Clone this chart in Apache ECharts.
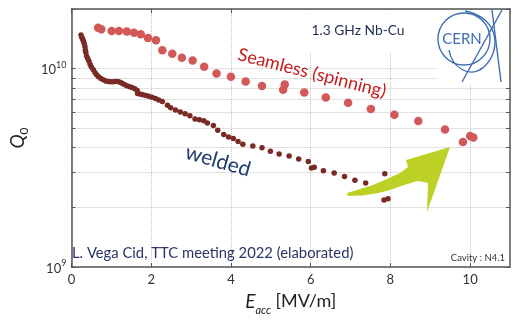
<!DOCTYPE html>
<html>
<head>
<meta charset="utf-8">
<script src="https://cdn.jsdelivr.net/npm/echarts@6/dist/echarts.min.js"></script>
<style>
  html, body { margin: 0; padding: 0; background: #fff; }
  #chart { width: 520px; height: 321px; }
</style>
</head>
<body>
<div id="chart"></div>
<script>
// seamless (spinning) cavity, Eacc [MV/m] / Q0
var seamlessE = [0.67, 0.75, 1.01, 1.19, 1.39, 1.57, 1.74, 1.92, 2.12, 2.28, 2.53, 2.77, 3.04, 3.33, 3.64,
  4.0, 4.37, 4.78, 5.31, 5.35, 5.84, 6.38, 6.94, 7.51, 8.1, 8.7, 9.37, 9.82, 10.0, 10.08];
var seamlessQ = [1.61e10, 1.58e10, 1.55e10, 1.55e10, 1.54e10, 1.52e10, 1.49e10, 1.43e10, 1.39e10, 1.24e10,
  1.19e10, 1.135e10, 1.10e10, 1.023e10, 9.46e9, 9.11e9, 8.62e9, 8.18e9, 7.84e9, 8.33e9,
  7.59e9, 7.15e9, 6.74e9, 6.27e9, 5.86e9, 5.45e9, 4.94e9, 4.27e9, 4.58e9, 4.50e9];

// welded cavity
var weldedE = [0.24, 0.26, 0.28, 0.30, 0.32, 0.34, 0.35, 0.36, 0.38, 0.41,
  0.44, 0.47, 0.50, 0.55, 0.59, 0.63, 0.68, 0.74, 0.80, 0.86,
  0.92, 0.98, 1.04, 1.10, 1.16, 1.22, 1.27, 1.33, 1.39, 1.46,
  1.52, 1.59, 1.65, 1.66, 1.72, 1.79, 1.87, 1.94, 2.02, 2.11,
  2.19, 2.28, 2.41, 2.49, 2.61, 2.73, 2.85, 2.97, 3.10, 3.21,
  3.32, 3.41, 3.56, 3.67, 3.82, 3.94, 4.06, 4.18, 4.30, 4.55,
  4.78, 4.99, 5.21, 5.46, 5.70, 5.94, 6.02, 6.09, 6.32, 6.59,
  6.85, 7.11, 7.38, 7.60, 7.86, 7.84, 7.94];
var weldedQ = [14.8e9, 14.4e9, 14.1e9, 13.8e9, 13.4e9, 12.9e9, 12.4e9, 12.1e9, 11.6e9, 11.25e9,
  10.9e9, 10.5e9, 10.2e9, 9.89e9, 9.58e9, 9.32e9, 9.11e9, 8.92e9, 8.79e9, 8.68e9,
  8.61e9, 8.59e9, 8.60e9, 8.61e9, 8.61e9, 8.55e9, 8.44e9, 8.32e9, 8.20e9, 8.10e9,
  8.03e9, 7.92e9, 7.77e9, 7.50e9, 7.45e9, 7.39e9, 7.33e9, 7.27e9, 7.17e9, 7.07e9,
  6.95e9, 6.83e9, 6.54e9, 6.36e9, 6.19e9, 6.04e9, 5.92e9, 5.79e9, 5.57e9, 5.53e9,
  5.47e9, 5.32e9, 5.17e9, 4.89e9, 4.66e9, 4.53e9, 4.45e9, 4.29e9, 4.16e9, 4.07e9,
  3.99e9, 3.83e9, 3.71e9, 3.63e9, 3.50e9, 3.40e9, 3.16e9, 3.18e9, 3.06e9, 2.98e9,
  2.86e9, 2.74e9, 2.65e9, 2.52e9, 2.95e9, 2.18e9, 2.21e9];

// axis ticks
var xTicks = [0, 2, 4, 6, 8, 10];
var yTicks = [1e9, 2e9, 3e9, 4e9, 5e9, 6e9, 7e9, 8e9, 9e9, 1e10, 2e10];
var yLabels = [1e9, 1e10];

function pairs(xs, ys) {
  return xs.map(function (x, i) { return [x, ys[i]]; });
}

var chart = echarts.init(document.getElementById('chart'));
var FONT = 'Lato';
var axisColor = '#555';

var option = {
  animation: false,
  grid: { left: 57.5, right: 10, top: 9, bottom: 44.3 },
  xAxis: [{
    type: 'value', min: 0, max: 11,
    axisLine: { show: true, onZero: false, lineStyle: { color: axisColor, width: 1.5 } },
    axisTick: { show: true, inside: true, length: 4, customValues: xTicks, lineStyle: { color: axisColor } },
    axisLabel: { customValues: xTicks, color: '#333', fontSize: 13, fontFamily: FONT, margin: 6 },
    splitLine: { show: true, lineStyle: { type: 'dotted', color: '#c4c4c4' } },
    name: '{e|E}{s|acc}{u| [MV/m]}',
    nameLocation: 'middle', nameGap: 25,
    nameTextStyle: {
      rich: {
        e: { fontSize: 19, fontStyle: 'italic', fontFamily: FONT, color: '#222', lineHeight: 22, verticalAlign: 'top' },
        s: { fontSize: 11, fontStyle: 'italic', fontFamily: FONT, color: '#222', verticalAlign: 'bottom', padding: [0, 0, -2, 0] },
        u: { fontSize: 18, fontFamily: FONT, color: '#222', lineHeight: 22, verticalAlign: 'top' }
      }
    }
  }, {
    type: 'value', min: 0, max: 11, position: 'top',
    axisLine: { show: true, onZero: false, lineStyle: { color: axisColor, width: 1.5 } },
    axisTick: { show: true, inside: true, length: 4, customValues: xTicks, lineStyle: { color: axisColor } },
    axisLabel: { show: false },
    splitLine: { show: false }
  }],
  yAxis: [{
    type: 'log', logBase: 10, min: 1e9, max: 2e10,
    axisLine: { show: true, onZero: false, lineStyle: { color: axisColor, width: 1.5 } },
    axisTick: { show: true, inside: true, length: 4, customValues: yTicks, lineStyle: { color: axisColor } },
    axisLabel: {
      customValues: yLabels, margin: 5,
      formatter: function (v) { return '{b|10}{p|' + Math.round(Math.log10(v)) + '}'; },
      rich: {
        b: { fontSize: 13, fontFamily: FONT, color: '#333', lineHeight: 16, verticalAlign: 'bottom' },
        p: { fontSize: 9, fontFamily: FONT, color: '#333', verticalAlign: 'top' }
      }
    },
    splitLine: { show: true, lineStyle: { type: 'dotted', color: '#c4c4c4' } },
    name: '{q|Q}{z|0}',
    nameLocation: 'middle', nameGap: 36, nameRotate: 90,
    nameTextStyle: {
      rich: {
        q: { fontSize: 19, fontStyle: 'italic', fontFamily: FONT, color: '#222', lineHeight: 22, verticalAlign: 'top' },
        z: { fontSize: 12, fontFamily: FONT, color: '#222', verticalAlign: 'bottom' }
      }
    }
  }, {
    type: 'log', logBase: 10, min: 1e9, max: 2e10, position: 'right',
    axisLine: { show: true, onZero: false, lineStyle: { color: axisColor, width: 1.5 } },
    axisTick: { show: true, inside: true, length: 4, customValues: yTicks, lineStyle: { color: axisColor } },
    axisLabel: { show: false },
    splitLine: { show: false }
  }],
  series: [{
    name: 'Seamless (spinning)',
    type: 'scatter',
    data: pairs(seamlessE, seamlessQ),
    symbolSize: 8.5,
    itemStyle: { color: '#d35858', opacity: 1 },
    z: 3
  }, {
    name: 'welded',
    type: 'scatter',
    data: pairs(weldedE, weldedQ),
    symbolSize: 5.5,
    itemStyle: { color: '#7a2a25', opacity: 1 },
    z: 4
  }],
  graphic: [
    // white patches behind the title text and the logo
    { type: 'rect', z: 1, shape: { x: 290, y: 10, width: 142, height: 42 }, style: { fill: '#fff' } },
    { type: 'rect', z: 1, shape: { x: 437, y: 10, width: 72, height: 74 }, style: { fill: '#fff' } },
    // CERN logo
    { type: 'circle', z: 6, shape: { cx: 464, cy: 39, r: 26 }, style: { fill: null, stroke: '#3f6db3', lineWidth: 1.4 } },
    { type: 'text', z: 6, x: 462, y: 39, style: { text: 'CERN', font: '15px ' + FONT, fill: '#3f6db3', align: 'center', verticalAlign: 'middle' } },
    { type: 'line', z: 6, shape: { x1: 492, y1: 10, x2: 501, y2: 82 }, style: { stroke: '#3f6db3', lineWidth: 1.4 } },
    { type: 'line', z: 6, shape: { x1: 502, y1: 10, x2: 462, y2: 82 }, style: { stroke: '#3f6db3', lineWidth: 1.4 } },
    { type: 'bezierCurve', z: 6, shape: { x1: 465, y1: 11, cpx1: 502, cpy1: 18, cpx2: 502, cpy2: 55, x2: 480, y2: 70 }, style: { fill: null, stroke: '#3f6db3', lineWidth: 1.4 } },
    { type: 'bezierCurve', z: 6, shape: { x1: 449, y1: 50, cpx1: 452, cpy1: 68, cpx2: 470, cpy2: 78, x2: 482, y2: 68 }, style: { fill: null, stroke: '#3f6db3', lineWidth: 1.4 } },
    // green arrow
    { type: 'polygon', z: 8, shape: { points: [[347, 193], [360, 189], [373, 185], [387, 179], [400, 173], [408, 167], [406, 160], [450, 147], [427, 212], [428, 183], [418, 181], [404, 185], [390, 190], [376, 193.5], [362, 195.5], [348, 196]] }, style: { fill: '#bcd026' } },
    // annotations
    { type: 'text', z: 9, x: 358, y: 31, style: { text: '1.3 GHz Nb-Cu', font: '13.8px ' + FONT, fill: '#1f2d5a', align: 'center', verticalAlign: 'middle' } },
    { type: 'text', z: 9, x: 312, y: 73, rotation: -0.25, style: { text: 'Seamless (spinning)', font: '18px ' + FONT, fill: '#c41a1a', align: 'center', verticalAlign: 'middle' } },
    { type: 'text', z: 9, x: 218, y: 161, rotation: -0.28, style: { text: 'welded', font: '21px ' + FONT, fill: '#1f3a6e', align: 'center', verticalAlign: 'middle' } },
    { type: 'text', z: 9, x: 72, y: 253, style: { text: 'L. Vega Cid, TTC meeting 2022 (elaborated)', font: '14.8px ' + FONT, fill: '#2a3566', align: 'left', verticalAlign: 'middle' } },
    { type: 'text', z: 9, x: 505, y: 258, style: { text: 'Cavity : N4.1', font: '9.5px ' + FONT, fill: '#333', align: 'right', verticalAlign: 'middle' } }
  ]
};

chart.setOption(option);
</script>
</body>
</html>
